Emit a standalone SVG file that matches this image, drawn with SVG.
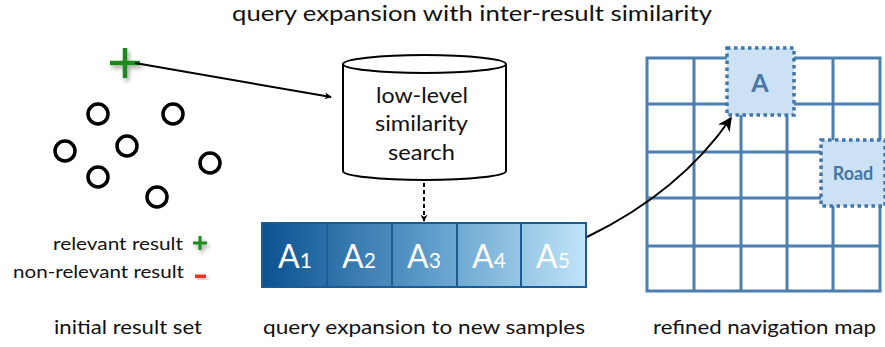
<svg xmlns="http://www.w3.org/2000/svg" width="885" height="347" viewBox="0 0 885 347">
  <defs>
    <style>
      .lbl { font-family: Lato, "Open Sans", "Liberation Sans", sans-serif; fill: #111; }
      .ring { fill: none; stroke: #000; stroke-width: 3.5; }
      .grid { stroke: #4a7fb0; stroke-width: 3; fill: none; }
      .hot { fill: #cce1f4; stroke: #3f77ab; stroke-width: 3.5; stroke-dasharray: 3.5 3.5; }
      .hotTxt { font-family: Lato, "Liberation Sans", sans-serif; font-weight: bold; fill: #4577a8; text-anchor: middle; }
      .cellTxt { font-family: Lato, "Liberation Sans", sans-serif; fill: #fff; }
      .wire { fill: none; stroke: #000; stroke-width: 2; }
    </style>
    <linearGradient id="stripGrad" x1="0" y1="0" x2="1" y2="0">
      <stop offset="0" stop-color="#0a5291"/>
      <stop offset="0.5" stop-color="#5b9ac8"/>
      <stop offset="1" stop-color="#bfe4f8"/>
    </linearGradient>
    <marker id="arrow" viewBox="0 0 10 10" refX="9" refY="5" markerWidth="7" markerHeight="7" orient="auto" markerUnits="userSpaceOnUse">
      <path d="M0,0 L10,5 L0,10 L3,5 z" fill="#000"/>
    </marker>
    <marker id="arrowBig" viewBox="0 0 10 10" refX="9" refY="5" markerWidth="14" markerHeight="14" orient="auto" markerUnits="userSpaceOnUse">
      <path d="M0,0 L10,5 L0,10 L3,5 z" fill="#000"/>
    </marker>
    <filter id="soft" x="-50%" y="-50%" width="200%" height="200%">
      <feGaussianBlur in="SourceAlpha" stdDeviation="2"/>
      <feOffset dx="2" dy="3" result="b"/>
      <feComponentTransfer><feFuncA type="linear" slope="0.35"/></feComponentTransfer>
      <feMerge><feMergeNode/><feMergeNode in="SourceGraphic"/></feMerge>
    </filter>
  </defs>

  <rect width="885" height="347" fill="#fff"/>

  <!-- title -->
  <text class="lbl" x="232" y="21" font-size="21" textLength="480" lengthAdjust="spacingAndGlyphs">query expansion with inter-result similarity</text>

  <!-- initial result set -->
  <g id="relevant-seed" filter="url(#soft)">
    <path d="M125,48 V78 M110,63 H140" stroke="#1a8a1a" stroke-width="4.5"/>
  </g>
  <g id="results">
    <circle class="ring" cx="98" cy="114" r="10"/>
    <circle class="ring" cx="173" cy="114" r="10"/>
    <circle class="ring" cx="65" cy="151" r="10"/>
    <circle class="ring" cx="127" cy="146" r="10"/>
    <circle class="ring" cx="98" cy="177" r="10"/>
    <circle class="ring" cx="210" cy="163" r="10"/>
    <circle class="ring" cx="157" cy="197" r="10"/>
  </g>
  <g id="legend">
    <text class="lbl" x="53" y="250" font-size="17" textLength="130" lengthAdjust="spacingAndGlyphs">relevant result</text>
    <path d="M200,236 V250 M193,243 H207" stroke="#1a8a1a" stroke-width="3" filter="url(#soft)"/>
    <text class="lbl" x="13" y="278" font-size="17" textLength="171" lengthAdjust="spacingAndGlyphs">non-relevant result</text>
    <rect x="195" y="274.5" width="11" height="3.5" fill="#ee3322" filter="url(#soft)"/>
  </g>

  <!-- similarity search store -->
  <g id="search">
    <path d="M343,64 V171 A81.5,9 0 0 0 506,171 V64" fill="#fff" stroke="#000" stroke-width="2"/>
    <ellipse cx="424.5" cy="64" rx="81.5" ry="9" fill="#fff" stroke="#000" stroke-width="2"/>
    <text class="lbl" x="376" y="103" font-size="22" textLength="92" lengthAdjust="spacingAndGlyphs">low-level</text>
    <text class="lbl" x="375" y="131" font-size="22" textLength="93" lengthAdjust="spacingAndGlyphs">similarity</text>
    <text class="lbl" x="388" y="160" font-size="22" textLength="67" lengthAdjust="spacingAndGlyphs">search</text>
  </g>

  <!-- expanded samples -->
  <g id="samples">
    <rect x="262" y="223" width="324" height="64" fill="url(#stripGrad)" stroke="#1a5c96" stroke-width="2"/>
    <path d="M327,223 V287 M392,223 V287 M457,223 V287 M521,223 V287" stroke="#1a5c96" stroke-width="2"/>
    <text class="cellTxt" x="278" y="268" font-size="32">A<tspan font-size="21">1</tspan></text>
    <text class="cellTxt" x="342" y="268" font-size="32">A<tspan font-size="21">2</tspan></text>
    <text class="cellTxt" x="407" y="268" font-size="32">A<tspan font-size="21">3</tspan></text>
    <text class="cellTxt" x="472" y="268" font-size="32">A<tspan font-size="21">4</tspan></text>
    <text class="cellTxt" x="536" y="268" font-size="32">A<tspan font-size="21">5</tspan></text>
  </g>

  <!-- navigation map -->
  <g id="map">
    <rect class="grid" x="647" y="58" width="233" height="233" fill="#fff"/>
    <path class="grid" d="M694,58 V291 M741,58 V291 M787,58 V291 M833,58 V291 M647,104 H880 M647,152 H880 M647,198 H880 M647,246 H880"/>
  </g>
  <g id="tile-a">
    <rect class="hot" x="727" y="48" width="67" height="67"/>
    <text class="hotTxt" x="760" y="92" font-size="25">A</text>
  </g>
  <g id="tile-road">
    <rect class="hot" x="821" y="140" width="64" height="66"/>
    <text class="hotTxt" x="853" y="180" font-size="18">Road</text>
  </g>

  <!-- connectors -->
  <g id="connectors">
    <path class="wire" d="M135,63 L331,97" marker-end="url(#arrow)"/>
    <path class="wire" d="M424,183 V221" stroke-dasharray="4 3" marker-end="url(#arrow)"/>
    <path class="wire" d="M587,237 Q680,192 731,118" stroke-width="3" marker-end="url(#arrowBig)"/>
  </g>

  <!-- captions -->
  <text class="lbl" x="54" y="334" font-size="20" textLength="148" lengthAdjust="spacingAndGlyphs">initial result set</text>
  <text class="lbl" x="263" y="334" font-size="20" textLength="322" lengthAdjust="spacingAndGlyphs">query expansion to new samples</text>
  <text class="lbl" x="653" y="334" font-size="20" textLength="223" lengthAdjust="spacingAndGlyphs">refined navigation map</text>
</svg>
